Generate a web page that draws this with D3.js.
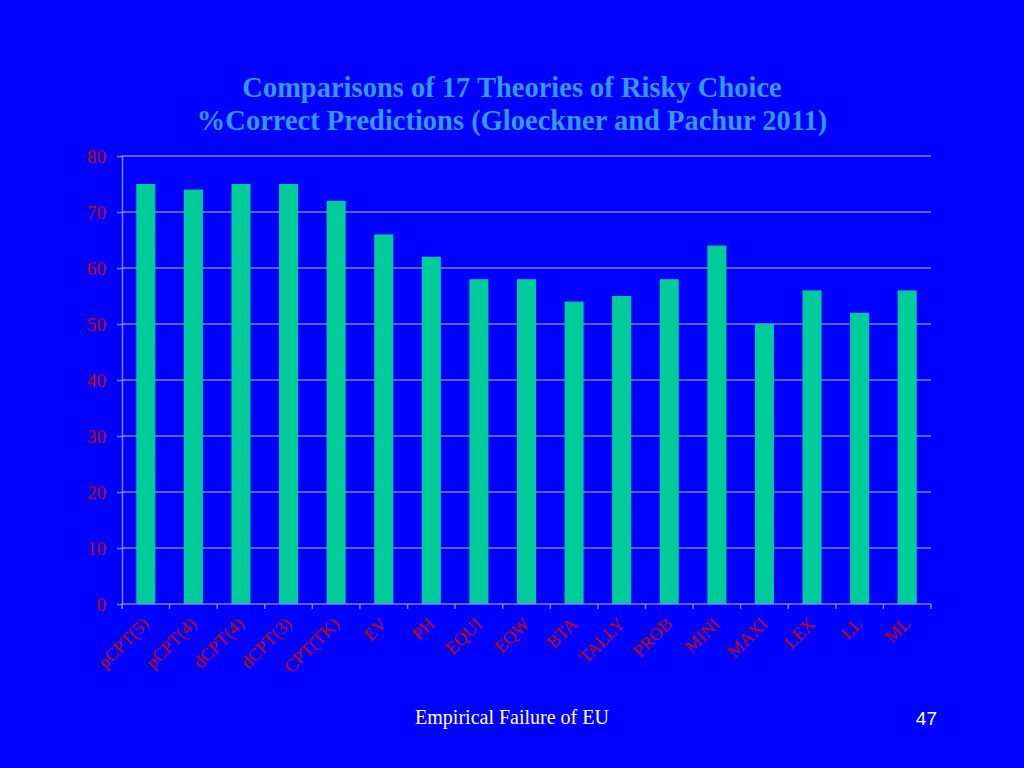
<!DOCTYPE html>
<html>
<head>
<meta charset="utf-8">
<script src="https://cdn.jsdelivr.net/npm/d3@7"></script>
<style>
  body { margin: 0; background: #0000ff; }
  svg { display: block; }
</style>
</head>
<body>
<div id="chart-area"></div>
<script>
// Comparisons of 17 theories of risky choice

const theories = ['pCPT(5)', 'pCPT(4)', 'dCPT(4)', 'dCPT(3)', 'CPT(TK)', 'EV', 'PH', 'EQUI', 'EQW',
  'BTA', 'TALLY', 'PROB', 'MINI', 'MAXI', 'LEX', 'LL', 'ML'];
const pctCorrect = [75, 74, 75, 75, 72, 66, 62, 58, 58, 54, 55, 58, 64, 50, 56, 52, 56];
const yTicks = [0, 10, 20, 30, 40, 50, 60, 70, 80];

const margin = { top: 156, right: 93, left: 122, bottom: 164 };
const width = 1024 - margin.left - margin.right;
const height = 768 - margin.top - margin.bottom;

const serif = '"Liberation Serif", "Times New Roman", serif';

const svg = d3.select('#chart-area').append('svg')
  .attr('width', 1024)
  .attr('height', 768);

svg.append('rect')
  .attr('width', 1024)
  .attr('height', 768)
  .attr('fill', '#0000ff');

// title
const title = svg.append('text')
  .attr('text-anchor', 'middle')
  .attr('font-family', serif)
  .attr('font-weight', 'bold')
  .attr('font-size', '28.5px')
  .attr('fill', '#3399ff');
title.append('tspan').attr('x', 512).attr('y', 97).text('Comparisons of 17 Theories of Risky Choice');
title.append('tspan').attr('x', 512).attr('y', 130).text('%Correct Predictions (Gloeckner and Pachur 2011)');

const g = svg.append('g')
  .attr('transform', `translate(${margin.left}, ${margin.top})`);

const x = d3.scaleBand()
  .domain(theories)
  .range([0, width])
  .paddingInner(0.6)
  .paddingOuter(0.3);

const y = d3.scaleLinear()
  .domain([0, 80])
  .range([height, 0]);

// gridlines
g.append('g')
  .selectAll('line')
  .data(yTicks.filter(d => d > 0))
  .enter().append('line')
  .attr('x1', 0)
  .attr('x2', width)
  .attr('y1', d => y(d))
  .attr('y2', d => y(d))
  .attr('stroke', '#8080ff')
  .attr('stroke-width', 1.5);

// bars
g.selectAll('rect.bar')
  .data(pctCorrect)
  .enter().append('rect')
  .attr('class', 'bar')
  .attr('x', (d, i) => x(theories[i]))
  .attr('y', d => y(d))
  .attr('width', x.bandwidth())
  .attr('height', d => height - y(d))
  .attr('fill', '#00cc99');

// y axis
const yAxisGroup = g.append('g')
  .call(d3.axisLeft(y).tickValues(yTicks).tickSize(5).tickSizeOuter(0).tickPadding(11));
yAxisGroup.select('.domain').attr('stroke', '#8080ff').attr('stroke-width', 1.5);
yAxisGroup.selectAll('.tick line').attr('stroke', '#8080ff').attr('stroke-width', 1.5);
yAxisGroup.selectAll('text')
  .attr('fill', '#cc0000')
  .attr('font-family', serif)
  .attr('font-size', '19px');

// x axis: tick marks on category boundaries
const step = width / theories.length;
const xAxisGroup = g.append('g')
  .attr('transform', `translate(0, ${height})`);
xAxisGroup.append('line')
  .attr('x1', 0).attr('x2', width)
  .attr('stroke', '#8080ff').attr('stroke-width', 1.5);
xAxisGroup.selectAll('line.tick')
  .data(d3.range(theories.length + 1))
  .enter().append('line')
  .attr('class', 'tick')
  .attr('x1', d => d * step).attr('x2', d => d * step)
  .attr('y1', 0).attr('y2', 5)
  .attr('stroke', '#8080ff').attr('stroke-width', 1.5);

xAxisGroup.selectAll('text')
  .data(theories)
  .enter().append('text')
  .attr('transform', d => `translate(${x(d) + x.bandwidth() / 2 + 4}, 21) rotate(-45)`)
  .attr('text-anchor', 'end')
  .attr('font-family', serif)
  .attr('font-size', '18px')
  .attr('fill', '#cc0000')
  .text(d => d);

// footer
svg.append('text')
  .attr('x', 512).attr('y', 724)
  .attr('text-anchor', 'middle')
  .attr('font-family', serif)
  .attr('font-size', '20px')
  .attr('fill', '#ffffff')
  .text('Empirical Failure of EU');

svg.append('text')
  .attr('x', 937).attr('y', 725)
  .attr('text-anchor', 'end')
  .attr('font-family', '"Liberation Sans", Arial, sans-serif')
  .attr('font-size', '19px')
  .attr('fill', '#ffffff')
  .text('47');
</script>
</body>
</html>
